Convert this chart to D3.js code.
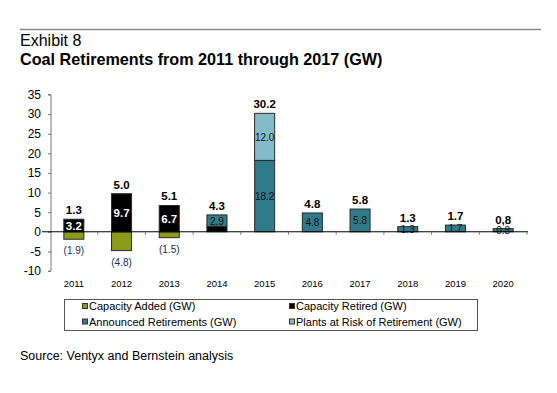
<!DOCTYPE html>
<html>
<head>
<meta charset="utf-8">
<script src="https://cdn.jsdelivr.net/npm/d3@7"></script>
<style>
  body { margin: 0; background: #fff; }
  text { font-family: "Liberation Sans", Arial, sans-serif; }
</style>
</head>
<body>
<script>
"use strict";

const years = ["2011", "2012", "2013", "2014", "2015", "2016", "2017", "2018", "2019", "2020"];
const capacityAdded = [-1.9, -4.8, -1.5, 0, 0, 0, 0, 0, 0, 0];
const capacityRetired = [3.2, 9.7, 6.7, 1.4, 0, 0, 0, 0, 0, 0];
const announcedRetirements = [0, 0, 0, 2.9, 18.2, 4.8, 5.8, 1.3, 1.7, 0.8];
const plantsAtRisk = [0, 0, 0, 0, 12.0, 0, 0, 0, 0, 0];
const totalLabels = ["1.3", "5.0", "5.1", "4.3", "30.2", "4.8", "5.8", "1.3", "1.7", "0,8"];
const yTicks = [-10, -5, 0, 5, 10, 15, 20, 25, 30, 35];

const seriesKeys = ["added", "retired", "announced", "risk"];
const seriesNames = {
  added: "Capacity Added (GW)",
  retired: "Capacity Retired (GW)",
  announced: "Announced Retirements  (GW)",
  risk: "Plants at Risk of Retirement (GW)"
};
const colors = {
  added: "#8a9b19",
  retired: "#000000",
  announced: "#2f7a8b",
  risk: "#85bacb"
};

const width = 557, height = 393;

let rows = years.map((y, i) => ({
  year: y,
  added: capacityAdded[i],
  retired: capacityRetired[i],
  announced: announcedRetirements[i],
  risk: plantsAtRisk[i]
}));

let svg = d3.select("body").append("svg")
    .attr("width", width)
    .attr("height", height);

// header rule and titles
svg.append("line")
    .attr("x1", 20).attr("x2", 541)
    .attr("y1", 29.5).attr("y2", 29.5)
    .attr("stroke", "#8a8a8a")
    .attr("stroke-width", 1.5);
svg.append("text")
    .attr("x", 20).attr("y", 45.5)
    .attr("font-size", 16)
    .text("Exhibit 8");
svg.append("text")
    .attr("x", 20).attr("y", 64.5)
    .attr("font-size", 16.2)
    .attr("font-weight", "bold")
    .text("Coal Retirements from 2011 through 2017 (GW)");

let x = d3.scaleBand()
    .domain(years)
    .range([50, 527])
    .paddingInner(0.58)
    .paddingOuter(0.29);

let y = d3.scaleLinear()
    .domain([-10, 35])
    .range([271, 94.5]);

// y axis
let yAxis = svg.append("g")
    .attr("transform", "translate(51,0)")
    .call(d3.axisLeft(y).tickValues(yTicks).tickSize(3).tickFormat(d => String(d)));
yAxis.select(".domain").attr("stroke", "#777").attr("d", `M-3,${y(35)}H0V${y(-10)}H-3`);
yAxis.selectAll(".tick line").attr("stroke", "#777");
yAxis.selectAll(".tick text")
    .attr("font-size", 12)
    .attr("x", -10)
    .attr("fill", "#000")
    .style("font-family", "'Liberation Sans', Arial, sans-serif");

let stack = d3.stack()
    .keys(seriesKeys)
    .offset(d3.stackOffsetDiverging);
let stacked = stack(rows);

let bars = svg.append("g");
for (let s of stacked) {
  bars.selectAll(null)
    .data(s.filter(d => d[1] !== d[0]))
    .enter().append("rect")
      .attr("x", d => x(d.data.year))
      .attr("width", x.bandwidth())
      .attr("y", d => y(Math.max(d[0], d[1])))
      .attr("height", d => Math.abs(y(d[0]) - y(d[1])))
      .attr("fill", colors[s.key])
      .attr("stroke", "#2a2a2a")
      .attr("stroke-width", 1);
}

// zero line with category ticks
let bandStep = x.step();
let xAxis = svg.append("g")
    .attr("transform", `translate(0,${y(0)})`);
xAxis.append("line")
    .attr("x1", 42).attr("x2", 528)
    .attr("stroke", "#000").attr("stroke-width", 1);
let boundaries = years.map((yr, i) => x(yr) - (bandStep - x.bandwidth()) / 2 + bandStep);
xAxis.selectAll(null)
    .data(boundaries)
    .enter().append("line")
      .attr("x1", d => d).attr("x2", d => d)
      .attr("y1", 0).attr("y2", 3)
      .attr("stroke", "#777");

// year labels
svg.append("g").selectAll("text")
    .data(years)
    .enter().append("text")
      .attr("x", d => x(d) + x.bandwidth() / 2)
      .attr("y", 287)
      .attr("text-anchor", "middle")
      .attr("font-size", 9.5)
      .text(d => d);

// segment labels
let segLabels = svg.append("g");
for (let s of stacked) {
  if (s.key === "added") continue;
  segLabels.selectAll(null)
    .data(s.filter(d => d[1] !== d[0]))
    .enter().append("text")
      .attr("x", d => x(d.data.year) + x.bandwidth() / 2)
      .attr("y", d => y((d[0] + d[1]) / 2) + 4)
      .attr("text-anchor", "middle")
      .attr("font-size", s.key === "retired" ? 11.5 : 10)
      .attr("font-weight", s.key === "retired" ? "bold" : "normal")
      .attr("fill", s.key === "retired" ? "#fff" : "#111")
      .text(d => {
        if (s.key === "retired" && d.data.announced > 0) return "";
        return d3.format(".1f")(d[1] - d[0]);
      });
}

// negative labels
svg.append("g").selectAll("text")
    .data(rows.filter(d => d.added < 0))
    .enter().append("text")
      .attr("x", d => x(d.year) + x.bandwidth() / 2)
      .attr("y", d => y(d.added) + 15)
      .attr("text-anchor", "middle")
      .attr("font-size", 10)
      .attr("fill", "#1a2a4a")
      .text(d => `(${d3.format(".1f")(-d.added)})`);

// totals
svg.append("g").selectAll("text")
    .data(rows)
    .enter().append("text")
      .attr("x", d => x(d.year) + x.bandwidth() / 2)
      .attr("y", d => y(d.retired + d.announced + d.risk) - 5)
      .attr("text-anchor", "middle")
      .attr("font-size", 11.5)
      .attr("font-weight", "bold")
      .text((d, i) => totalLabels[i]);

// legend
let legend = svg.append("g");
legend.append("rect")
    .attr("x", 64.5).attr("y", 299.5)
    .attr("width", 413).attr("height", 31)
    .attr("fill", "none")
    .attr("stroke", "#555");
let legendPos = {
  added: [82, 310],
  retired: [289, 310],
  announced: [82, 325.5],
  risk: [289, 325.5]
};
for (let key of seriesKeys) {
  let [lx, ly] = legendPos[key];
  legend.append("rect")
      .attr("x", lx + 0.5).attr("y", ly - 6.5)
      .attr("width", 5).attr("height", 5)
      .attr("fill", colors[key])
      .attr("stroke", "#333");
  legend.append("text")
      .attr("x", lx + 7).attr("y", ly)
      .attr("font-size", 11)
      .text(seriesNames[key]);
}

svg.append("text")
    .attr("x", 20).attr("y", 360)
    .attr("font-size", 12.5)
    .text("Source: Ventyx and Bernstein analysis");
</script>
</body>
</html>
